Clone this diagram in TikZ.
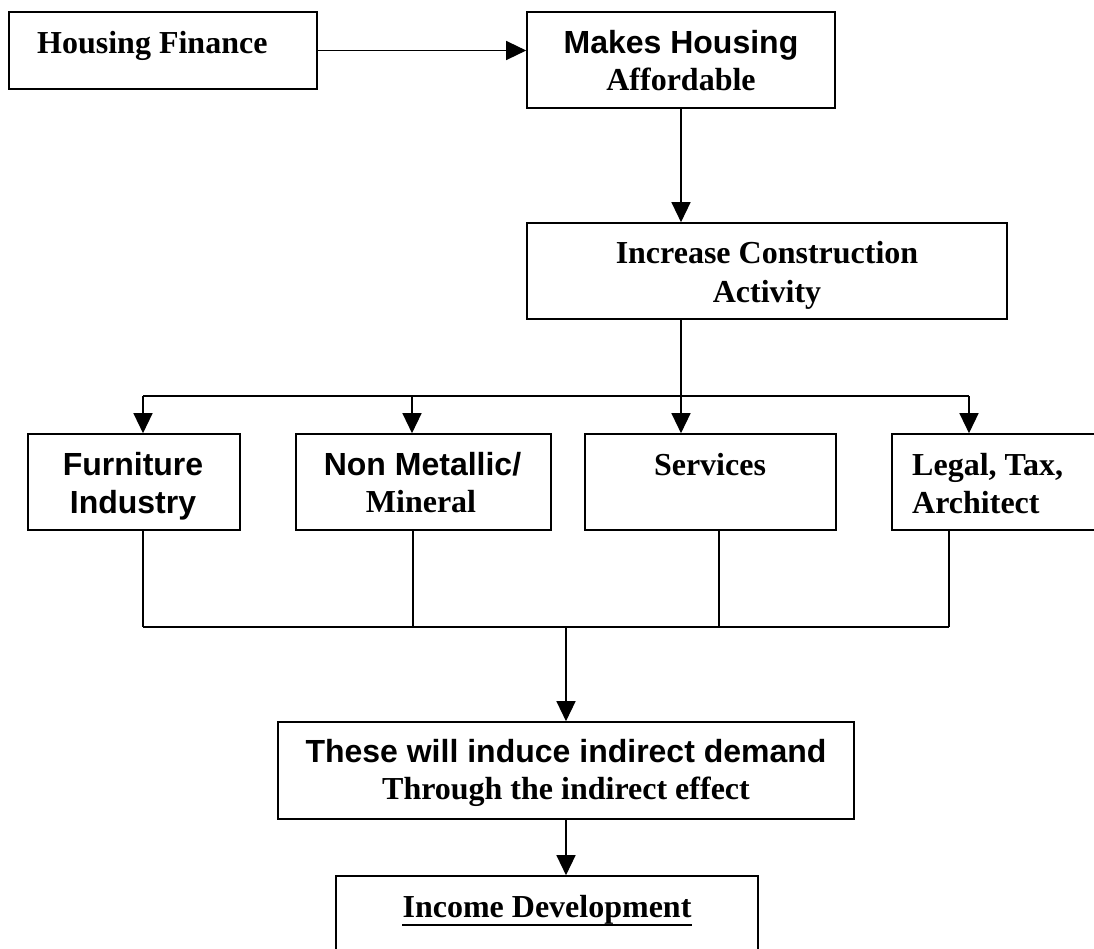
\documentclass[tikz,border=0pt]{standalone}
\usepackage{fontspec}
\setmainfont{Liberation Serif}
\newfontfamily\arialfont{Liberation Sans}
\usetikzlibrary{arrows.meta}
\begin{document}
\begin{tikzpicture}[x=1pt,y=-1pt,
  box/.style={draw, line width=1.6pt, inner sep=0pt, rectangle},
  lbl/.style={inner sep=0pt, anchor=base, font=\fontsize{32}{38}\selectfont\bfseries},
  lblw/.style={lbl, anchor=base west},
  sans/.style={font=\fontsize{32}{38}\selectfont\arialfont\bfseries},
  conn/.style={line width=1.3pt},
  thin/.style={line width=1.1pt},
  arr/.style={conn, -{Triangle[length=20pt,width=19pt]}},
]
\useasboundingbox (0,0) rectangle (1094,948);

% boxes
\node[box, minimum width=308pt, minimum height=77pt] (hf)  at (163,50.5) {};
\node[box, minimum width=308pt, minimum height=96pt] (mk)  at (681,60) {};
\node[box, minimum width=480pt, minimum height=96pt] (inc) at (767,271) {};
\node[box, minimum width=212pt, minimum height=96pt] (fur) at (134,482) {};
\node[box, minimum width=255pt, minimum height=96pt] (nm)  at (423.5,482) {};
\node[box, minimum width=251pt, minimum height=96pt] (sv)  at (710.5,482) {};
\node[box, minimum width=218pt, minimum height=96pt] (lg)  at (1001,482) {};
\node[box, minimum width=576pt, minimum height=97pt] (th)  at (566,770.5) {};
\node[box, minimum width=422pt, minimum height=84pt] (id)  at (547,918) {};

% texts
\node[lblw] (thf) at (37,53) {Housing Finance};
\node[lbl, sans] (tmk1) at (681,53) {Makes Housing};
\node[lbl] (tmk2) at (681,90) {Affordable};
\node[lbl] (tinc1) at (767,263) {Increase Construction};
\node[lbl] (tinc2) at (767,302) {Activity};
\node[lbl, sans] (tfur1) at (133,475) {Furniture};
\node[lbl, sans] (tfur2) at (133,513) {Industry};
\node[lbl, sans] (tnm1) at (422.5,475) {Non Metallic/};
\node[lbl] (tnm2) at (421,512) {Mineral};
\node[lbl] (tsv) at (710,475) {Services};
\node[lblw] (tlg1) at (912,475) {Legal, Tax,};
\node[lblw] (tlg2) at (912,513) {Architect};
\node[lbl, sans] (tth1) at (566,762) {These will induce indirect demand};
\node[lbl] (tth2) at (566,799) {Through the indirect effect};
\node[lbl] (tid) at (547,917) {Income Development};
\draw[line width=2.6pt] ([yshift=-1pt]tid.south west) -- ([yshift=-1pt]tid.south east);

% bus coordinates
\coordinate (a1) at (143,396);
\coordinate (a2) at (412,396);
\coordinate (a3) at (681,396);
\coordinate (a4) at (969,396);
\coordinate (b1) at (143,627);
\coordinate (b2) at (413,627);
\coordinate (b3) at (719,627);
\coordinate (b4) at (949,627);
\coordinate (bc) at (566,627);

% connectors
\draw[arr] (hf.east) -- (hf.east -| mk.west);
\draw[arr] (mk.south) -- (mk.south |- inc.north);
\draw[conn] (a3 |- inc.south) -- (a3);
\draw[conn] (a1) -- (a4);
\draw[arr] (a1) -- (a1 |- fur.north);
\draw[arr] (a2) -- (a2 |- nm.north);
\draw[arr] (a3) -- (a3 |- sv.north);
\draw[arr] (a4) -- (a4 |- lg.north);

\draw[thin] (b1 |- fur.south) -- (b1);
\draw[thin] (b2 |- nm.south) -- (b2);
\draw[thin] (b3 |- sv.south) -- (b3);
\draw[thin] (b4 |- lg.south) -- (b4);
\draw[thin] (b1) -- (b4);
\draw[arr] (bc) -- (th.north);
\draw[arr] (th.south) -- (th.south |- id.north);
\end{tikzpicture}
\end{document}
